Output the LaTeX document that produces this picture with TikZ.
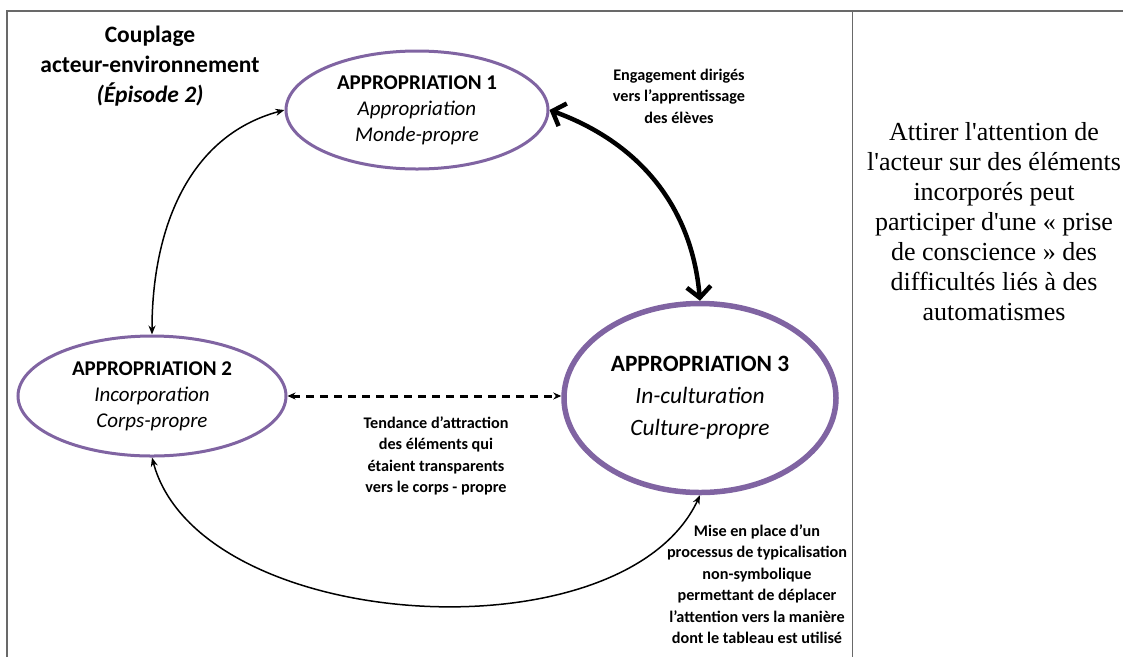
\documentclass[tikz,border=0pt]{standalone}
\usepackage{fontspec}
\setmainfont{Liberation Serif}
\setsansfont{Carlito}
\definecolor{apppurple}{RGB}{128,100,162}
\definecolor{framegray}{RGB}{105,105,105}
\usetikzlibrary{shapes.geometric,arrows.meta,positioning}

\tikzset{
  appnode/.style={ellipse, draw=apppurple, line width=3pt, align=center, inner sep=0pt,
    font=\sffamily\fontsize{21}{26}\selectfont},
  smalltext/.style={align=center, font=\sffamily\bfseries\fontsize{16.2}{21.5}\selectfont},
  thinlink/.style={line width=1.5pt, {Stealth[length=9pt,width=7pt]}-{Stealth[length=9pt,width=7pt]}},
}

\begin{document}
\begin{tikzpicture}[x=1pt, y=-1pt]
  \useasboundingbox (0,0) rectangle (1123,657);

  % Frame
  \draw[framegray, line width=1.2pt] (7,657) -- (7,11) -- (1123,11);
  \draw[framegray, line width=1pt] (852,11) -- (852,657);

  % Title
  \node[align=center, font=\sffamily\bfseries\fontsize{23.5}{30}\selectfont] (title) at (150,66)
    {Couplage\\acteur-environnement\\\textit{(Épisode 2)}};

  % Appropriations
  \node[appnode, minimum width=262pt, minimum height=118pt] (app1) at (417,110)
    {\textbf{APPROPRIATION 1}\\\textit{Appropriation}\\\textit{Monde-propre}};
  \node[appnode, minimum width=268pt, minimum height=120pt] (app2) at (152,396)
    {\textbf{APPROPRIATION 2}\\\textit{Incorporation}\\\textit{Corps-propre}};
  \node[appnode, line width=5.5pt, minimum width=272pt, minimum height=189pt,
    font=\sffamily\fontsize{23.4}{32}\selectfont] (app3) at (700,398)
    {\textbf{APPROPRIATION 3}\\\textit{In-culturation}\\\textit{Culture-propre}};

  % Links
  \draw[thinlink] (app2.north) to[out=90, in=195] (app1.west);
  \draw[line width=4.5pt, {Straight Barb[length=11pt,width=24pt]}-{Straight Barb[length=11pt,width=24pt]}]
    (app1.east) to[out=-20, in=95] (app3.north);
  \draw[line width=3pt, dash pattern=on 8pt off 6pt, {Stealth[length=8pt,width=7pt]}-{Stealth[length=8pt,width=7pt]}]
    (app2.east) -- (app2.east -| app3.west);
  \draw[thinlink] (app2.south) to[out=-75, in=-115, looseness=0.85] (app3.south);

  % Labels
  \node[smalltext] (engage) at (679,96)
    {Engagement dirigés\\vers l’apprentissage\\des élèves};
  \node[smalltext] (tendance) at (436,456)
    {Tendance d’attraction\\des éléments qui\\étaient transparents\\vers le corps - propre};
  \node[smalltext] (mise) at (757,584)
    {Mise en place d’un\\processus de typicalisation\\non-symbolique\\permettant de déplacer\\l’attention vers la manière\\dont le tableau est utilisé};

  % Comment on the right
  \node[align=center, font=\fontsize{26}{30}\selectfont] (attirer) at (994,222)
    {Attirer l\textquotesingle attention de\\l\textquotesingle acteur sur des éléments\\incorporés peut\\participer d\textquotesingle une « prise\\de conscience » des\\difficultés liés à des\\automatismes};
\end{tikzpicture}
\end{document}
